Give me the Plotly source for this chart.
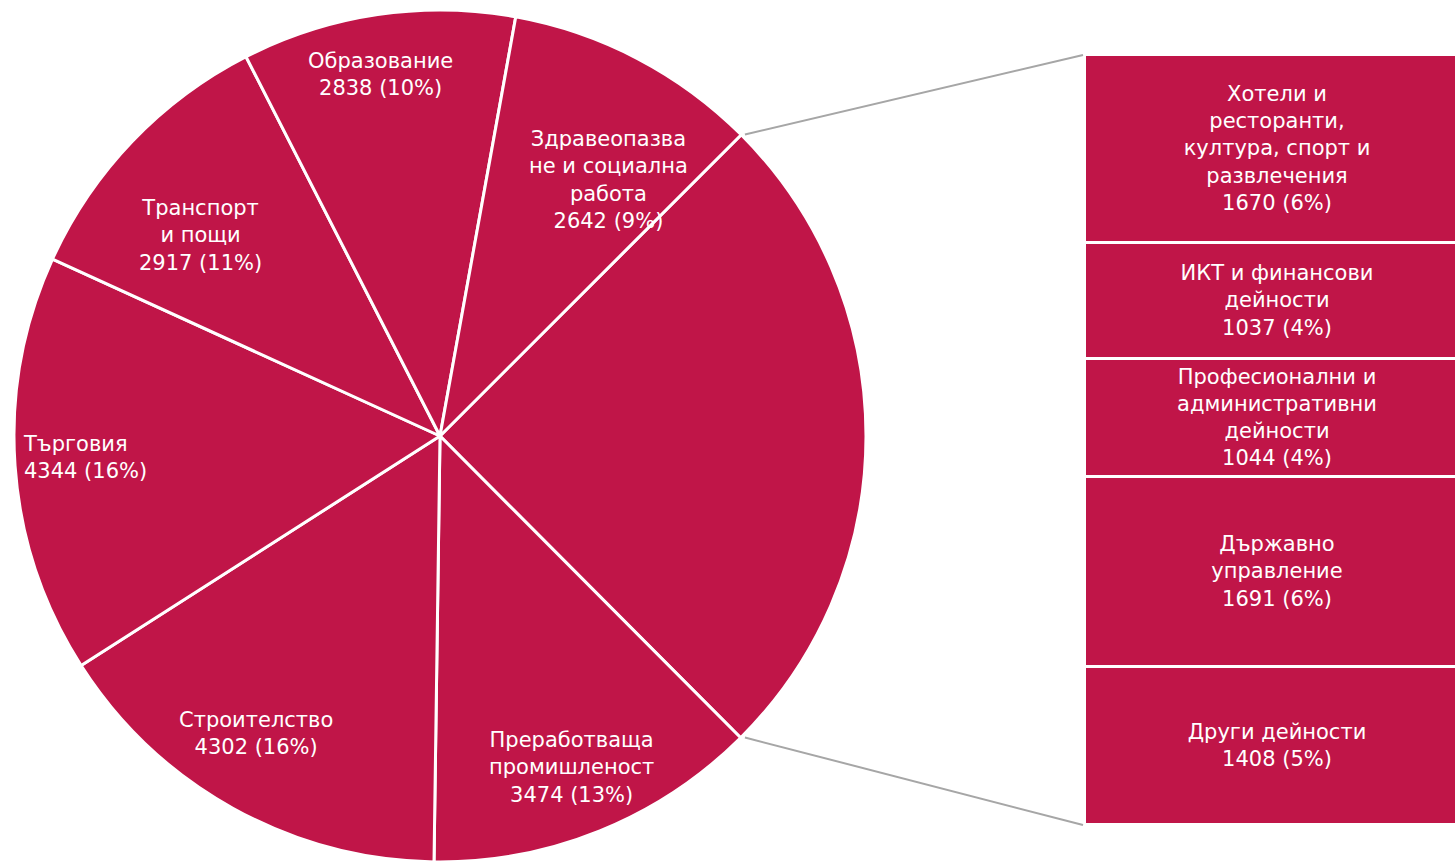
import plotly.graph_objects as go
import math

# ---------- data ----------
pie_labels = ["Други", "Преработваща<br>промишленост", "Строителство", "Търговия",
              "Транспорт<br>и пощи", "Образование", "Здравеопазва<br>не и социална<br>работа"]
pie_values = [6850, 3474, 4302, 4344, 2917, 2838, 2642]
pie_pcts = ["25%", "13%", "16%", "16%", "11%", "10%", "9%"]

bar_labels = ["Хотели и<br>ресторанти,<br>култура, спорт и<br>развлечения",
              "ИКТ и финансови<br>дейности",
              "Професионални и<br>административни<br>дейности",
              "Държавно<br>управление",
              "Други дейности"]
bar_values = [1670, 1037, 1044, 1691, 1408]
bar_pcts = ["6%", "4%", "4%", "6%", "5%"]

# ---------- style ----------
W, H = 1455, 862
COL = "#C01548"
FONT = "DejaVu Sans"
FS = 21
# label placement in the pie (fraction of radius, angle offset in degrees, alignment)
lab_rfrac = [0, 0.836, 0.82, 0.835, 0.733, 0.861, 0.72]
lab_dang = [0, 0.4, 2.6, 0.6, -3.8, -0.9, 5.7]
lab_align = ["center", "center", "center", "left", "center", "center", "center"]

fig = go.Figure()

pie_x0, pie_x1 = 14 / W, 866 / W
pie_y0, pie_y1 = 0.0, 852 / H
ROT = 45
fig.add_trace(go.Pie(
    labels=[l.replace("<br>", " ") for l in pie_labels],
    values=pie_values,
    textinfo="none",
    sort=False,
    direction="clockwise",
    rotation=ROT,
    marker=dict(colors=[COL] * len(pie_values), line=dict(color="white", width=3)),
    domain=dict(x=[pie_x0, pie_x1], y=[pie_y0, pie_y1]),
    showlegend=False,
    hoverinfo="label+value",
))

bar_y0, bar_y1 = 1 - 825 / H, 1 - 55 / H
bar_x0 = 1085 / W
# stack bottom-up
for l, v, p in list(zip(bar_labels, bar_values, bar_pcts))[::-1]:
    fig.add_trace(go.Bar(
        x=[0], y=[v],
        text=[f"{l}<br>{v} ({p})"],
        textposition="inside",
        insidetextanchor="middle",
        textangle=0,
        textfont=dict(color="white", size=FS, family=FONT),
        marker=dict(color=COL, line=dict(color="white", width=3)),
        width=1,
        showlegend=False,
        hoverinfo="none",
        xaxis="x", yaxis="y",
    ))

total_other = sum(bar_values)

# pie geometry (pixels)
cx = (pie_x0 + pie_x1) / 2 * W
cy = H - (pie_y0 + pie_y1) / 2 * H
r = min((pie_x1 - pie_x0) * W, (pie_y1 - pie_y0) * H) / 2
tot = sum(pie_values)

# slice labels placed along each slice's mid angle
annotations = []
cum = 0
for i, (l, v, p) in enumerate(zip(pie_labels, pie_values, pie_pcts)):
    mid = ROT + (cum + v / 2) / tot * 360
    cum += v
    if i == 0:
        continue
    a = math.radians(mid + lab_dang[i])
    px = cx + lab_rfrac[i] * r * math.sin(a)
    py = cy - lab_rfrac[i] * r * math.cos(a)
    annotations.append(dict(
        x=px / W, y=1 - py / H, xref="paper", yref="paper",
        text=f"{l}<br>{v} ({p})", showarrow=False,
        xanchor="center", yanchor="middle", align=lab_align[i],
        font=dict(color="white", size=FS, family=FONT),
    ))

# connector lines from pie edge (bounds of the "other" slice) to bar corners
half = pie_values[0] / tot * math.pi
shapes = []
for sgn, by in [(-1, bar_y1), (1, bar_y0)]:
    px = cx + r * math.cos(half) + 4
    py = cy + sgn * r * math.sin(half)
    shapes.append(dict(type="line", xref="paper", yref="paper",
                       x0=px / W, y0=1 - py / H, x1=bar_x0 - 2 / W, y1=by,
                       line=dict(color="#A6A6A6", width=2)))

fig.update_layout(
    width=W, height=H,
    margin=dict(l=0, r=0, t=0, b=0),
    paper_bgcolor="white", plot_bgcolor="white",
    barmode="stack",
    bargap=0,
    xaxis=dict(domain=[bar_x0, 1], range=[-0.5, 0.46], visible=False, fixedrange=True),
    yaxis=dict(domain=[bar_y0, bar_y1], range=[0, total_other], visible=False, fixedrange=True),
    shapes=shapes,
    annotations=annotations,
    uniformtext=dict(minsize=FS, mode="show"),
    font=dict(family=FONT),
)

fig.write_html("out.html",
               config={"displayModeBar": False},
               post_script="document.body.style.margin='0';document.body.style.overflow='hidden';")
